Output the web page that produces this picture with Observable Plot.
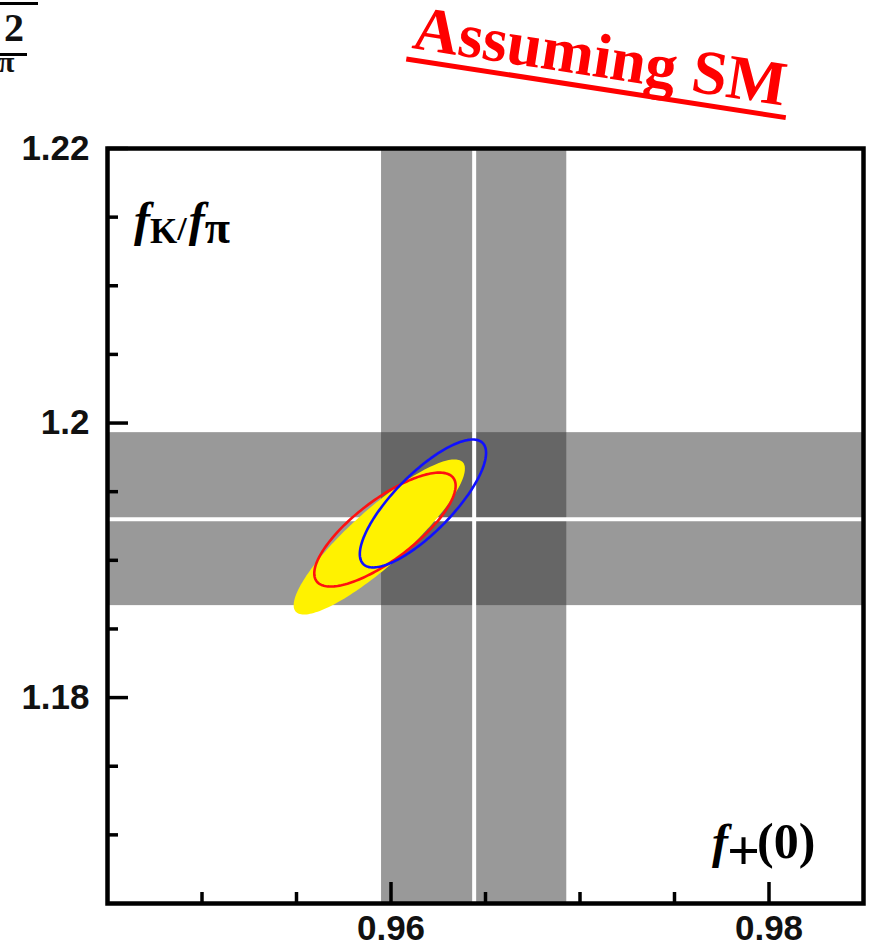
<!DOCTYPE html>
<html>
<head>
<meta charset="utf-8">
<script src="https://cdn.jsdelivr.net/npm/d3@7"></script>
<script src="https://cdn.jsdelivr.net/npm/@observablehq/plot@0.6"></script>
<style>
  html, body { margin: 0; padding: 0; background: #fff; }
  #chart svg { display: block; }
</style>
</head>
<body>
<div id="chart"></div>
<script>
// Axis ticks and their labels
const xMajorTicks = [0.96, 0.98];
const xTickLabels = ["0.96", "0.98"];
const xMinorTicks = [0.95, 0.955, 0.965, 0.97, 0.975];
const yMajorTicks = [1.18, 1.2, 1.22];
const yTickLabels = ["1.18", "1.2", "1.22"];
const yMinorTicks = [1.17, 1.175, 1.185, 1.19, 1.195, 1.205, 1.21, 1.215];

// Input bands: central value and half-width
const fPlusCentral = 0.9644;
const fPlusError = 0.0049;
const fKfPiCentral = 1.193;
const fKfPiError = 0.0063;

// Fit contours: centre, sigma in x and y, correlation
const fitNames = ["fit", "fit (Kl3)", "fit (Kl2)"];
const fitCenterX = [0.95938, 0.95968, 0.96169];
const fitCenterY = [1.19170, 1.19224, 1.19414];
const fitSigmaX = [0.00453, 0.00374, 0.00334];
const fitSigmaY = [0.00565, 0.00415, 0.00466];
const fitCorr = [0.88, 0.77, 0.79];

// Trace each 1-sigma contour from its centre, sigmas and correlation
function contour(i) {
  return d3.range(0, 360, 2).map((deg) => {
    const t = (deg * Math.PI) / 180;
    const r = fitCorr[i];
    return {
      fit: fitNames[i],
      x: fitCenterX[i] + fitSigmaX[i] * Math.cos(t),
      y: fitCenterY[i] + fitSigmaY[i] * (r * Math.cos(t) + Math.sqrt(1 - r * r) * Math.sin(t))
    };
  });
}

const vBand = [{lo: fPlusCentral - fPlusError, hi: fPlusCentral + fPlusError}];
const hBand = [{lo: fKfPiCentral - fKfPiError, hi: fKfPiCentral + fKfPiError}];
const overlap = [{x1: vBand[0].lo, x2: vBand[0].hi, y1: hBand[0].lo, y2: hBand[0].hi}];

const W = 871, H = 948;
const mL = 107, mR = 8, mT = 148, mB = 45;
const frameW = W - mL - mR, frameH = H - mT - mB;

const plot = Plot.plot({
  width: W,
  height: H,
  marginLeft: mL,
  marginRight: mR,
  marginTop: mT,
  marginBottom: mB,
  style: {fontFamily: "'Liberation Sans', Arial, sans-serif", background: "#fff"},
  x: {domain: [0.945, 0.985]},
  y: {domain: [1.165, 1.22]},
  marks: [
    Plot.rect(vBand, {x1: "lo", x2: "hi", fill: "#999"}),
    Plot.rect(hBand, {y1: "lo", y2: "hi", fill: "#999"}),
    Plot.rect(overlap, {x1: "x1", x2: "x2", y1: "y1", y2: "y2", fill: "#666"}),
    Plot.ruleX([fPlusCentral], {stroke: "#fff", strokeWidth: 4}),
    Plot.ruleY([fKfPiCentral], {stroke: "#fff", strokeWidth: 4}),
    Plot.line(contour(0), {x: "x", y: "y", curve: "linear-closed", fill: "#fff200", stroke: "none"}),
    Plot.line(contour(1), {x: "x", y: "y", curve: "linear-closed", stroke: "#ff1010", strokeWidth: 2.6}),
    Plot.line(contour(2), {x: "x", y: "y", curve: "linear-closed", stroke: "#1010ff", strokeWidth: 2.6}),
    // inward tick marks
    Plot.tickX(xMajorTicks, {x: (d) => d, insetTop: frameH - 21, stroke: "#000", strokeWidth: 3.5}),
    Plot.tickX(xMinorTicks, {x: (d) => d, insetTop: frameH - 11, stroke: "#000", strokeWidth: 3.5}),
    Plot.tickY(yMajorTicks, {y: (d) => d, insetRight: frameW - 21, stroke: "#000", strokeWidth: 3.5}),
    Plot.tickY(yMinorTicks, {y: (d) => d, insetRight: frameW - 11, stroke: "#000", strokeWidth: 3.5}),
    Plot.axisX(xMajorTicks, {
      anchor: "bottom", tickSize: 0, tickPadding: 12, label: null,
      tickFormat: (d, i) => xTickLabels[i], fontSize: 35, fontWeight: "bold", fill: "#111"
    }),
    Plot.axisY(yMajorTicks, {
      anchor: "left", tickSize: 0, tickPadding: 18, label: null,
      tickFormat: (d, i) => yTickLabels[i], fontSize: 35, fontWeight: "bold", fill: "#111"
    }),
    Plot.frame({stroke: "#000", strokeWidth: 4.5})
  ]
});

const svg = d3.select(plot);
const serif = "'Liberation Serif', 'Times New Roman', serif";

// Axis titles inside the frame
const yTitle = svg.append("text")
  .attr("x", 134).attr("y", 236).attr("text-anchor", "start")
  .attr("font-family", serif).attr("font-weight", "bold").attr("fill", "#000");
yTitle.append("tspan").attr("font-style", "italic").attr("font-size", 48).text("f");
yTitle.append("tspan").attr("font-size", 35).attr("dy", 7).text("K");
yTitle.append("tspan").attr("font-size", 34).attr("dy", -3).text("/");
yTitle.append("tspan").attr("font-style", "italic").attr("font-size", 48).attr("dy", -4).attr("dx", 2).text("f");
yTitle.append("tspan").attr("font-size", 46).attr("dy", 7).text("π");

const xTitle = svg.append("text")
  .attr("x", 712).attr("y", 858).attr("text-anchor", "start")
  .attr("font-family", serif).attr("font-weight", "bold").attr("fill", "#000");
xTitle.append("tspan").attr("font-style", "italic").attr("font-size", 48).text("f");
xTitle.append("tspan").attr("font-size", 58).attr("dy", 12).attr("dx", -1).text("+");
xTitle.append("tspan").attr("font-size", 50).attr("dy", -12).attr("dx", -3).text("(0)");

// Slanted, underlined heading
const head = svg.append("g").attr("transform", "translate(411,48) rotate(8.8)");
head.append("text")
  .attr("x", 0).attr("y", 0).attr("text-anchor", "start")
  .attr("font-family", serif).attr("font-weight", "bold").attr("font-size", 63)
  .attr("fill", "#ff0000").text("Assuming SM");
head.append("rect")
  .attr("x", -3).attr("y", 9).attr("width", 384).attr("height", 5)
  .attr("fill", "#ff0000");

// Fragment of a fraction at the top-left edge
const frac = svg.append("g").attr("fill", "#111").attr("font-family", serif).attr("text-anchor", "start");
frac.append("rect").attr("x", 0).attr("y", 2).attr("width", 38).attr("height", 3).attr("fill", "#000");
frac.append("text").attr("x", 4).attr("y", 41).attr("font-size", 40).attr("font-weight", "bold").text("2");
frac.append("rect").attr("x", 0).attr("y", 53).attr("width", 27).attr("height", 3).attr("fill", "#000");
frac.append("text").attr("x", -2).attr("y", 72).attr("font-size", 30).attr("font-weight", "bold").text("π");

document.getElementById("chart").appendChild(plot);
</script>
</body>
</html>
